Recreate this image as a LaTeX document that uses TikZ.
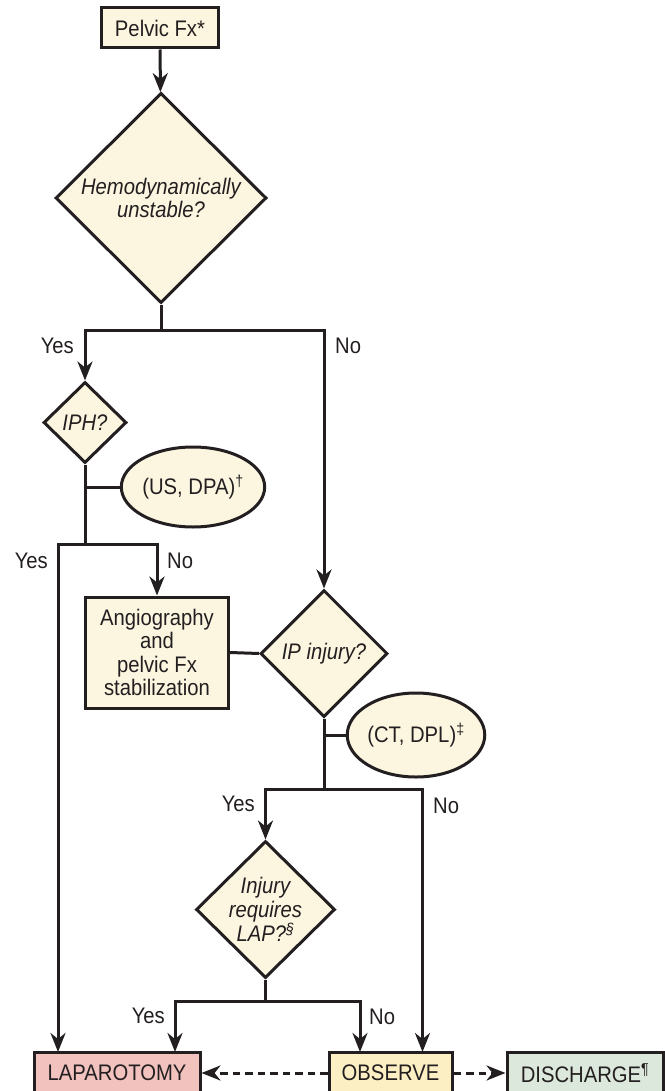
\documentclass[tikz,border=0pt]{standalone}
\usepackage{fontspec}
\setmainfont{Liberation Sans}[FakeStretch=0.9]
\usetikzlibrary{shapes.geometric,arrows.meta}
\definecolor{ink}{HTML}{231F20}
\definecolor{cream}{HTML}{FCF6E1}
\definecolor{lappink}{HTML}{F2C3BE}
\definecolor{obsyel}{HTML}{FDEFC4}
\definecolor{disgrn}{HTML}{DDE8DC}
\begin{document}
\begin{tikzpicture}[x=1pt,y=-1pt,
  txt/.style={text=ink,font=\fontsize{22.5}{23.5}\selectfont},
  base/.style={txt,draw=ink,line width=3pt,inner sep=0pt,align=center},
  procbox/.style={base,rectangle,fill=cream},
  decis/.style={base,diamond,fill=cream,font=\fontsize{22.5}{23.5}\selectfont\itshape},
  oval/.style={base,ellipse,fill=cream},
  conn/.style={draw=ink,line width=3pt},
  arr/.style={conn,-{Stealth[length=19pt,width=15pt,inset=6pt]}},
  darr/.style={conn,dash pattern=on 7.5pt off 5pt,-{Stealth[length=19pt,width=15pt,inset=6pt]}},
  lbl/.style={txt,inner sep=0pt,text height=16pt,text depth=0pt}]
\useasboundingbox (0,0) rectangle (664,1091);
\fill[white] (0,0) rectangle (664,1091);

% nodes
\node[procbox,minimum width=117pt,minimum height=40pt] (pfx) at (160,28) {Pelvic Fx*};
\node[decis,inner sep=-2pt,minimum width=211pt,minimum height=210pt] (hemo) at (161,198) {Hemodynamically\\unstable?};
\node[decis,minimum width=83pt,minimum height=81pt] (iph) at (85,422.5) {IPH?};
\node[oval,minimum width=129pt,minimum height=80pt] (us) at (193,487) {(US, DPA)\textsuperscript{†}};
\node[procbox,minimum width=143pt,minimum height=111pt] (angio) at (157,652.5) {Angiography\\and\\pelvic Fx\\stabilization};
\node[decis,minimum width=127pt,minimum height=127pt] (ipi) at (324,653.5) {IP injury?};
\node[oval,minimum width=129pt,minimum height=84pt] (ct) at (416,735) {(CT, DPL)\textsuperscript{‡}};
\node[decis,inner sep=-3pt,minimum width=139pt,minimum height=137pt] (lapq) at (265.5,909.5) {Injury\\requires\\LAP?\textsuperscript{§}};
\node[procbox,fill=lappink,minimum width=166pt,minimum height=42pt] (lap) at (117,1073) {LAPAROTOMY};
\node[procbox,fill=obsyel,minimum width=123pt,minimum height=42pt] (obs) at (390.5,1073) {OBSERVE};
\node[procbox,fill=disgrn,minimum width=156pt,minimum height=42pt] (dis) at (585,1073) {DISCHARGE\textsuperscript{¶}};

% junctions and arrow ends
\coordinate (j1) at (161,330);
\coordinate (usj) at (85,487);
\coordinate (j2) at (85,544);
\coordinate (lapA) at (58,1052);
\coordinate (ctj) at (324,735);
\coordinate (j3) at (324,789);
\coordinate (obsB) at (422.5,1052);
\coordinate (j4) at (265.5,1001);
\coordinate (lapB) at (175,1052);
\coordinate (obsA) at (360,1052);

% connectors
\draw[arr] (pfx) -- (hemo);
\draw[arr] (hemo.south) -- (j1) -| (iph.north);
\draw[arr] (j1) -| (ipi.north);
\draw[conn] (iph.south) -- (j2);
\draw[conn] (usj) -- (us.west);
\draw[arr] (j2) -| (lapA);
\draw[arr] (j2) -| (angio.north);
\draw[conn] (angio.east) -- (ipi.west);
\draw[conn] (ipi.south) -- (j3);
\draw[conn] (ctj) -- (ct.west);
\draw[arr] (j3) -| (lapq.north);
\draw[arr] (j3) -| (obsB);
\draw[conn] (lapq.south) -- (j4);
\draw[arr] (j4) -| (lapB);
\draw[arr] (j4) -| (obsA);
\draw[darr] (obs.west) -- (lap.east);
\draw[darr] (obs.east) -- (dis.west);

% labels
\node[lbl,anchor=east] (y1) at (74,345) {Yes};
\node[lbl,anchor=west] (n1) at (335,345) {No};
\node[lbl,anchor=east] (y2) at (48,560) {Yes};
\node[lbl,anchor=west] (n2) at (167,560) {No};
\node[lbl,anchor=east] (y3) at (255,803) {Yes};
\node[lbl,anchor=west] (n3) at (433,805) {No};
\node[lbl,anchor=east] (y4) at (165,1015) {Yes};
\node[lbl,anchor=west] (n4) at (369,1016) {No};
\end{tikzpicture}
\end{document}
